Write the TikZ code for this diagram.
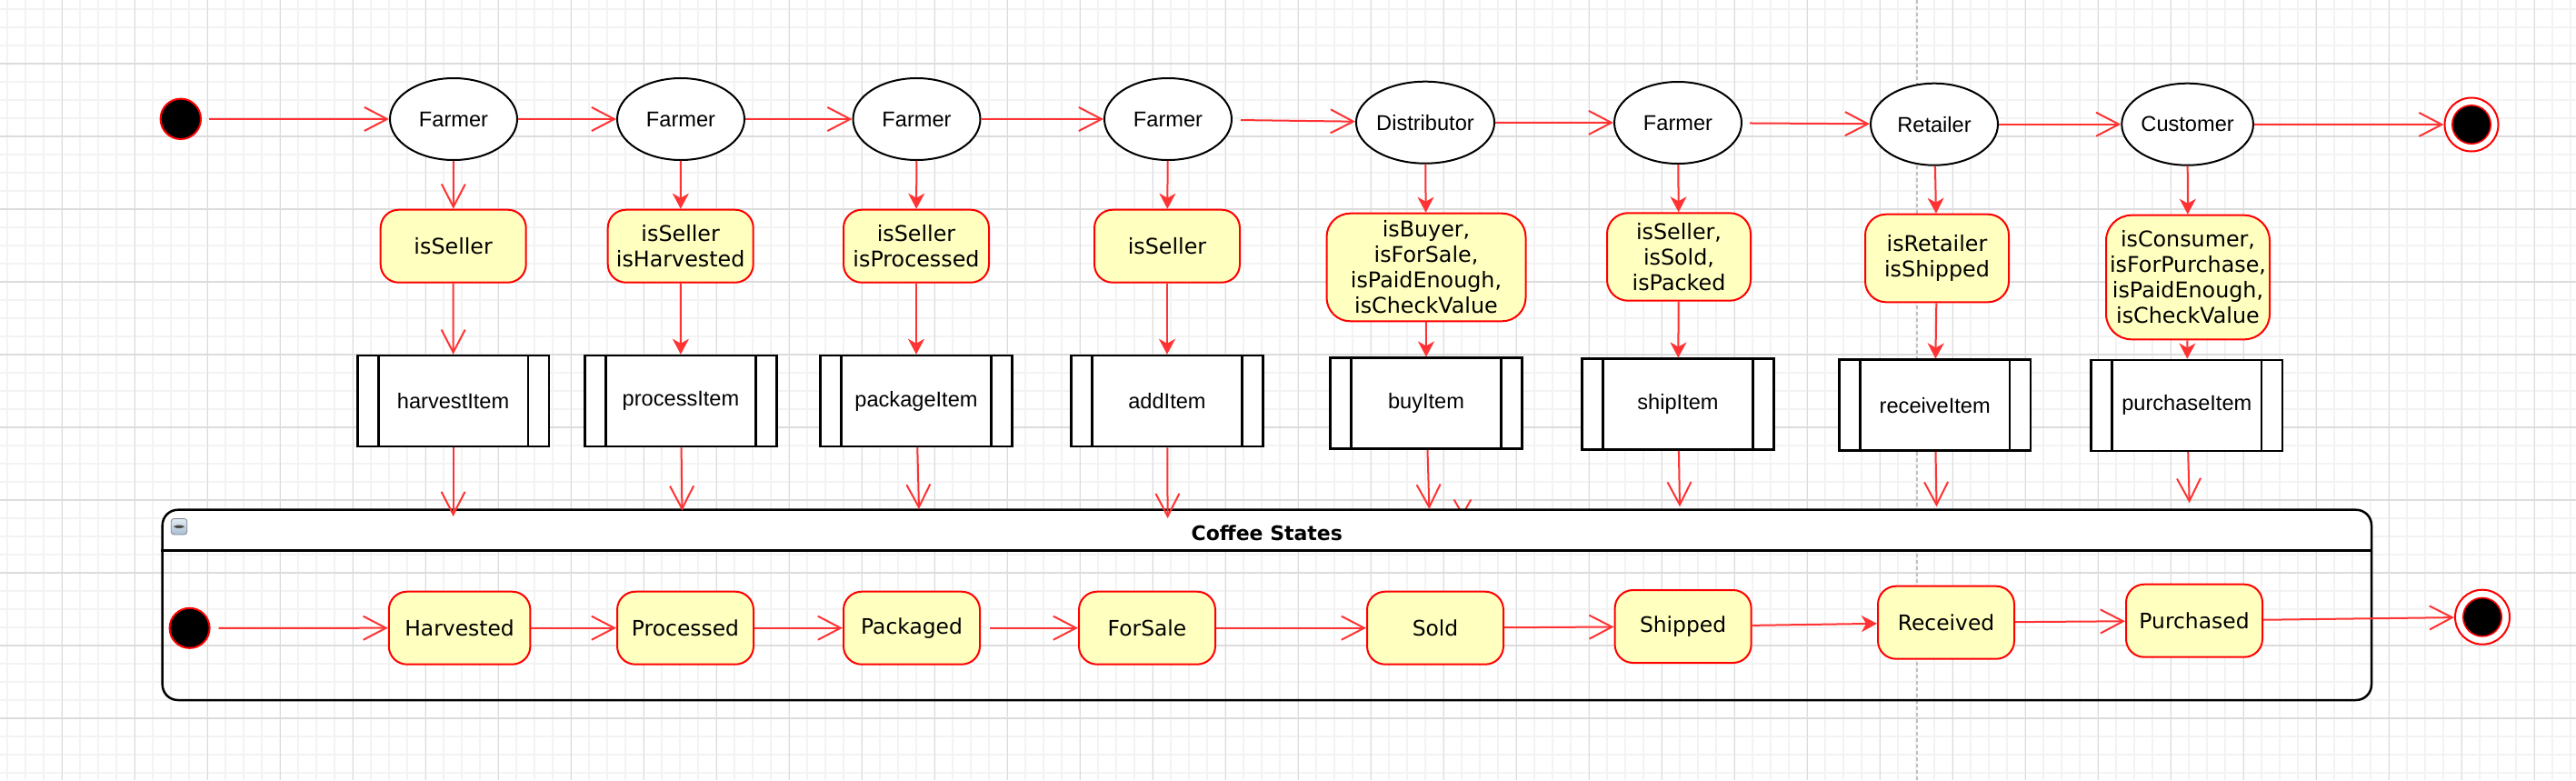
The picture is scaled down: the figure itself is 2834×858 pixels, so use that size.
\documentclass[tikz,border=0pt]{standalone}
\usepackage{fontspec}
\setmainfont{Liberation Sans}
\newfontfamily\guardfont{DejaVu Sans}
\usepackage{tikz}
\usetikzlibrary{positioning, shapes.geometric, arrows.meta}
\definecolor{guardyellow}{HTML}{FFFFC0}
\definecolor{edgered}{HTML}{FF3333}
\definecolor{boxred}{HTML}{FF0000}
\definecolor{gridminor}{HTML}{F3F3F3}
\definecolor{gridmajor}{HTML}{DCDCDC}
\definecolor{breakgray}{HTML}{C0C0C0}
\definecolor{iconblue}{HTML}{A9BED4}

\begin{document}
\begin{tikzpicture}[
    x=0.5pt, y=-0.5pt,
    every node/.style={
        inner sep=0pt,
        align=center
    },
    actor/.style={
        ellipse, draw=black, fill=white, line width=1pt,
        minimum width=70pt, minimum height=45pt,
        font=\fontsize{11.8pt}{14pt}\selectfont
    },
    guard/.style={
        rectangle, rounded corners=10pt, draw=boxred, fill=guardyellow,
        line width=1pt, minimum width=80pt, minimum height=40pt,
        font=\guardfont\fontsize{11.9pt}{14pt}\selectfont
    },
    procbox/.style={
        rectangle, draw=black, fill=white, line width=1.25pt,
        minimum width=105.3pt, minimum height=50pt,
        font=\fontsize{11.8pt}{14pt}\selectfont,
        path picture={
            \draw[line width=1.25pt]
                ([xshift=11.5pt]path picture bounding box.north west) --
                ([xshift=11.5pt]path picture bounding box.south west)
                ([xshift=-11.5pt]path picture bounding box.north east) --
                ([xshift=-11.5pt]path picture bounding box.south east);
        }
    },
    coffeestate/.style={
        rectangle, rounded corners=10pt, draw=boxred, fill=guardyellow,
        line width=1pt, minimum width=75pt, minimum height=40pt,
        font=\guardfont\fontsize{11.7pt}{14pt}\selectfont
    },
    startdot/.style={
        circle, draw=boxred, fill=black, line width=1pt, minimum size=22pt
    },
    enddot/.style={
        circle, draw=boxred, fill=white, line width=1pt, minimum size=30pt,
        path picture={
            \filldraw[fill=black, draw=boxred, line width=0.8pt]
                (path picture bounding box.center) circle (10.6pt);
        }
    },
    frame/.style={
        rectangle, draw=black, line width=1.25pt, rounded corners=8.5pt
    },
    icon/.style={
        rectangle, rounded corners=1.5pt, draw=iconblue!70!black, line width=0.4pt,
        top color=iconblue!30, bottom color=iconblue, minimum size=8.7pt,
        path picture={
            \fill[black!70]
                ([xshift=-2.65pt, yshift=-0.85pt]path picture bounding box.center) rectangle
                ([xshift=2.65pt, yshift=0.85pt]path picture bounding box.center);
        }
    },
    arrow/.style={-{Straight Barb[length=12.5pt, width=13pt]}, draw=edgered, line width=1pt},
    farrow/.style={-{Stealth[length=8.5pt, width=9pt, inset=2.5pt]}, draw=edgered, line width=1pt}
]
\useasboundingbox (0,0) rectangle (2834,858);

% ======================
% Background grid
% ======================
\fill[white] (0,0) rectangle (2834,858);
\foreach \gx in {8.3,28.3,...,2828.3} \draw[gridminor, line width=0.9pt] (\gx,0) -- (\gx,858);
\foreach \gy in {10,30,...,850} \draw[gridminor, line width=0.9pt] (0,\gy) -- (2834,\gy);
\foreach \gx in {68.3,148.3,...,2788.3} \draw[gridmajor, line width=0.7pt] (\gx,0) -- (\gx,858);
\foreach \gy in {70,150,...,790} \draw[gridmajor, line width=0.7pt] (0,\gy) -- (2834,\gy);
\draw[breakgray, line width=1pt, dash pattern=on 2.2pt off 1.3pt] (2109.3,0) -- (2109.3,858);

% stray arrow head under the header
\coordinate (stray_l) at (1600,550);
\coordinate (stray_tip) at (1609,566);
\coordinate (stray_r) at (1618,550);
\draw[edgered, line width=1pt, line cap=round] (stray_l) -- (stray_tip) -- (stray_r);

% ======================
% Coffee States frame
% ======================
\begin{scope}
    \clip (178.7,560.7) rectangle (2609,606.7);
    \fill[white, rounded corners=8.5pt] (178.7,560.7) rectangle (2609,770);
\end{scope}
\node[frame, minimum width=1215.15pt, minimum height=104.65pt] (states_frame) at (1393.85,665.35) {};
\draw[line width=1.25pt] ([yshift=-23pt]states_frame.north west) -- ([yshift=-23pt]states_frame.north east);
\node[icon] (states_icon) at (197,579.2) {};
\node[font=\guardfont\bfseries\fontsize{11pt}{13pt}\selectfont] (states_title) at ([yshift=-13.3pt]states_frame.north) {Coffee States};

\node[startdot] (init_states) at (208.6,690.8) {};
\node[coffeestate, minimum width=77.8pt] (st_harvested) at (505.6,690.7) {Harvested};
\node[coffeestate] (st_processed) at (754,690.7) {Processed};
\node[coffeestate] (st_packaged) at (1003,690.7) {Packaged};
\node[coffeestate] (st_forsale) at (1262,690.7) {ForSale};
\node[coffeestate] (st_sold) at (1579,690.7) {Sold};
\node[coffeestate] (st_shipped) at (1851.6,689) {Shipped};
\node[coffeestate] (st_received) at (2141,684.7) {Received};
\node[coffeestate] (st_purchased) at (2414,682.7) {Purchased};
\node[enddot] (final_states) at (2731,678.7) {};

\draw[arrow, shorten <=4.5pt] (init_states) -- (st_harvested);
\draw[arrow] (st_harvested) -- (st_processed);
\draw[arrow] (st_processed) -- (st_packaged);
\draw[arrow, shorten <=5pt] (st_packaged) -- (st_forsale);
\draw[arrow] (st_forsale) -- (st_sold);
\draw[arrow] (st_sold) -- (st_shipped);
\draw[farrow] (st_shipped) -- (st_received);
\draw[arrow] (st_received) -- (st_purchased);
\draw[arrow] (st_purchased) -- (final_states);

% ======================
% Actors row
% ======================
\node[startdot, minimum size=22.2pt] (init_top) at (198.8,130.8) {};
\node[actor] (actor_harvest) at (499,131) {Farmer};
\node[actor] (actor_process) at (749,131) {Farmer};
\node[actor] (actor_package) at (1008.5,131) {Farmer};
\node[actor] (actor_add) at (1285,131) {Farmer};
\node[actor] (actor_buy) at (1568,134.7) {Distributor};
\node[actor] (actor_ship) at (1846,135) {Farmer};
\node[actor] (actor_receive) at (2128,136.7) {Retailer};
\node[actor] (actor_purchase) at (2406.6,136.7) {Customer};
\node[enddot, minimum size=29.5pt] (final_top) at (2719,137) {};

\draw[arrow, shorten <=4pt] (init_top) -- (actor_harvest);
\draw[arrow] (actor_harvest) -- (actor_process);
\draw[arrow] (actor_process) -- (actor_package);
\draw[arrow] (actor_package) -- (actor_add);
\draw[arrow, shorten <=4.5pt] (actor_add) -- (actor_buy);
\draw[arrow] (actor_buy) -- (actor_ship);
\draw[arrow, shorten <=4pt] (actor_ship) -- (actor_receive);
\draw[arrow] (actor_receive) -- (actor_purchase);
\draw[arrow] (actor_purchase) -- (final_top);

% ======================
% Guards
% ======================
\node[guard] (guard_harvest) at (498.7,270.7) {isSeller};
\node[guard] (guard_process) at (748.7,270.7) {isSeller\\isHarvested};
\node[guard] (guard_package) at (1008,270.7) {isSeller\\isProcessed};
\node[guard] (guard_add) at (1284,270.7) {isSeller};
\node[guard, minimum width=109.5pt, minimum height=59.3pt, rounded corners=13pt] (guard_buy) at (1569,294) {isBuyer,\\isForSale,\\isPaidEnough,\\isCheckValue};
\node[guard, minimum width=79pt, minimum height=48.2pt, rounded corners=11.5pt] (guard_ship) at (1847,282.5) {isSeller,\\isSold,\\isPacked};
\node[guard, minimum width=79pt, minimum height=48.3pt, rounded corners=11.5pt] (guard_receive) at (2131,284) {isRetailer\\isShipped};
\node[guard, minimum width=90pt, minimum height=68.3pt, rounded corners=14pt] (guard_purchase) at (2407,305) {isConsumer,\\isForPurchase,\\isPaidEnough,\\isCheckValue};

% ======================
% Functions
% ======================
\node[procbox] (func_harvest) at (498.6,441) {harvestItem};
\node[procbox] (func_process) at (749,441) {processItem};
\node[procbox] (func_package) at (1008,441) {packageItem};
\node[procbox] (func_add) at (1284,441) {addItem};
\node[procbox] (func_buy) at (1569,443.7) {buyItem};
\node[procbox] (func_ship) at (1846,444.7) {shipItem};
\node[procbox] (func_receive) at (2128.7,445.7) {receiveItem};
\node[procbox] (func_purchase) at (2405.8,445.8) {purchaseItem};

\coordinate (tip_harvest) at (498.6,568);
\coordinate (tip_process) at (750.4,561.7);
\coordinate (tip_package) at (1011,560);
\coordinate (tip_add) at (1284.6,570);
\coordinate (tip_buy) at (1572.4,560);
\coordinate (tip_ship) at (1848,557.3);
\coordinate (tip_receive) at (2130.5,557.3);
\coordinate (tip_purchase) at (2408.7,553.3);

\draw[arrow] (actor_harvest) -- (guard_harvest);
\draw[arrow] (guard_harvest) -- (func_harvest);
\draw[arrow] (func_harvest) -- (tip_harvest);

\draw[farrow] (actor_process) -- (guard_process);
\draw[farrow] (guard_process) -- (func_process);
\draw[arrow] (func_process) -- (tip_process);

\draw[farrow] (actor_package) -- (guard_package);
\draw[farrow] (guard_package) -- (func_package);
\draw[arrow] (func_package) -- (tip_package);

\draw[farrow] (actor_add) -- (guard_add);
\draw[farrow] (guard_add) -- (func_add);
\draw[arrow] (func_add) -- (tip_add);

\draw[farrow] (actor_buy) -- (guard_buy);
\draw[farrow] (guard_buy) -- (func_buy);
\draw[arrow] (func_buy) -- (tip_buy);

\draw[farrow] (actor_ship) -- (guard_ship);
\draw[farrow] (guard_ship) -- (func_ship);
\draw[arrow] (func_ship) -- (tip_ship);

\draw[farrow] (actor_receive) -- (guard_receive);
\draw[farrow] (guard_receive) -- (func_receive);
\draw[arrow] (func_receive) -- (tip_receive);

\draw[farrow] (actor_purchase) -- (guard_purchase);
\draw[farrow] (guard_purchase) -- (func_purchase);
\draw[arrow] (func_purchase) -- (tip_purchase);

\end{tikzpicture}
\end{document}
